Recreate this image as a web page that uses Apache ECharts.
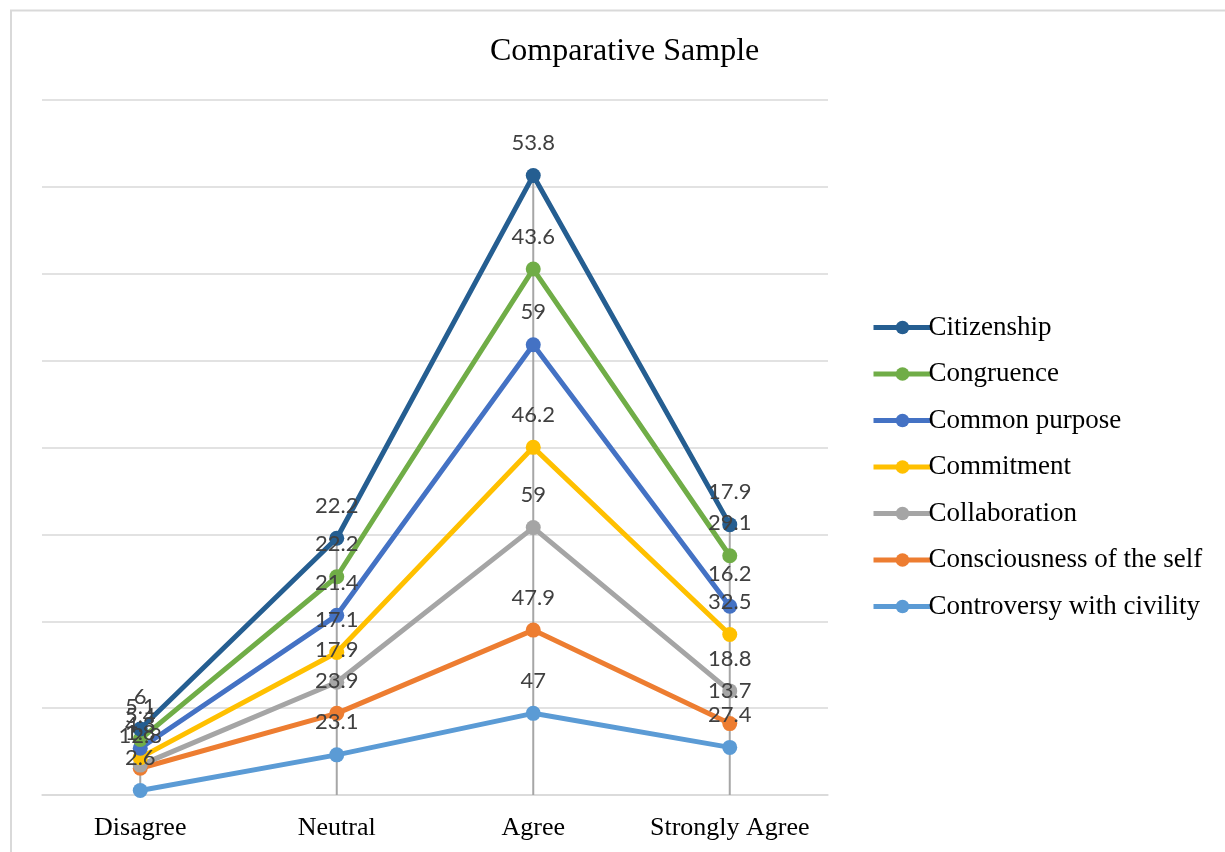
<!DOCTYPE html>
<html>
<head>
<meta charset="utf-8">
<title>Comparative Sample</title>
<script src="https://cdn.jsdelivr.net/npm/echarts@6/dist/echarts.min.js"></script>
<style>
  html, body { margin: 0; padding: 0; background: #ffffff; }
  #chart { width: 1225px; height: 852px; }
</style>
</head>
<body>
<div id="chart"></div>
<script>
// Response categories on the x axis
const categories = ['Disagree', 'Neutral', 'Agree', 'Strongly Agree'];

// Percentages per construct (stacked from the bottom up)
const controversy   = [2.6, 23.1, 47.0, 27.4];
const consciousness = [12.8, 23.9, 47.9, 13.7];
const collaboration = [1.8, 17.9, 59.0, 18.8];
const commitment    = [4.3, 17.1, 46.2, 32.5];
const commonPurpose = [5.4, 21.4, 59.0, 16.2];
const congruence    = [5.1, 22.2, 43.6, 29.1];
const citizenship   = [6.0, 22.2, 53.8, 17.9];

// Series names, bottom of the stack first
const seriesNames = [
  'Controversy with civility',
  'Consciousness of the self',
  'Collaboration',
  'Commitment',
  'Common purpose',
  'Congruence',
  'Citizenship'
];
const seriesValues = [controversy, consciousness, collaboration, commitment, commonPurpose, congruence, citizenship];
const seriesColors = ['#5B9BD5', '#ED7D31', '#A5A5A5', '#FFC000', '#4472C4', '#70AD47', '#255E91'];

// Legend lists the top of the stack first
const legendOrder = seriesNames.slice().reverse();

// Height of the full stack at each category, used for the drop lines
const stackTotals = categories.map((_, i) =>
  seriesValues.reduce((sum, arr) => sum + arr[i], 0)
);

const chart = echarts.init(document.getElementById('chart'));

const lineSeries = seriesNames.map((name, k) => ({
  name: name,
  type: 'line',
  stack: 'total',
  data: seriesValues[k],
  symbol: 'circle',
  symbolSize: 15,
  z: 3,
  itemStyle: { color: seriesColors[k] },
  lineStyle: { width: 5, color: seriesColors[k] },
  label: {
    show: true,
    position: 'top',
    distance: 14,
    fontFamily: 'Lato, "Liberation Sans", sans-serif',
    fontSize: 22,
    color: '#404040',
    formatter: p => String(p.value)
  },
  labelLayout: { hideOverlap: false },
  emphasis: { disabled: true },
  animation: false
}));

// Vertical drop lines from the axis up to the top of the stack
const dropLines = {
  name: 'dropLines',
  type: 'bar',
  data: stackTotals,
  barWidth: 2,
  z: 2,
  silent: true,
  itemStyle: { color: '#A6A6A6' },
  animation: false
};

chart.setOption({
  backgroundColor: '#ffffff',
  animation: false,
  title: {
    text: 'Comparative Sample',
    left: 485,
    top: 31,
    textStyle: {
      fontFamily: '"Liberation Serif", "Times New Roman", serif',
      fontSize: 32,
      fontWeight: 'normal',
      color: '#000000'
    }
  },
  legend: {
    orient: 'vertical',
    left: 866,
    top: 309,
    data: legendOrder,
    itemWidth: 58,
    itemHeight: 17,
    itemGap: 19.5,
    lineStyle: { width: 5 },
    textStyle: {
      fontFamily: '"Liberation Serif", "Times New Roman", serif',
      fontSize: 27,
      color: '#000000',
      padding: [0, 0, 0, -8]
    }
  },
  grid: {
    left: 42,
    right: 397,
    top: 100,
    bottom: 57,
    containLabel: false
  },
  xAxis: {
    type: 'category',
    data: categories,
    boundaryGap: true,
    axisLine: { show: true, lineStyle: { color: '#D9D9D9', width: 1.5 } },
    axisTick: { show: false },
    axisLabel: {
      interval: 0,
      margin: 20,
      fontFamily: '"Liberation Serif", "Times New Roman", serif',
      fontSize: 26,
      color: '#000000'
    },
    splitLine: { show: false }
  },
  yAxis: {
    type: 'value',
    min: 0,
    max: 400,
    interval: 50,
    axisLine: { show: false },
    axisTick: { show: false },
    axisLabel: { show: false },
    splitLine: { show: true, lineStyle: { color: '#D9D9D9', width: 1.5 } }
  },
  graphic: [
    {
      type: 'line',
      shape: { x1: 10, y1: 10.5, x2: 1225, y2: 10.5 },
      style: { stroke: '#D9D9D9', lineWidth: 2 },
      silent: true
    },
    {
      type: 'line',
      shape: { x1: 11, y1: 10, x2: 11, y2: 852 },
      style: { stroke: '#D9D9D9', lineWidth: 2 },
      silent: true
    }
  ],
  series: [dropLines].concat(lineSeries)
});
</script>
</body>
</html>
